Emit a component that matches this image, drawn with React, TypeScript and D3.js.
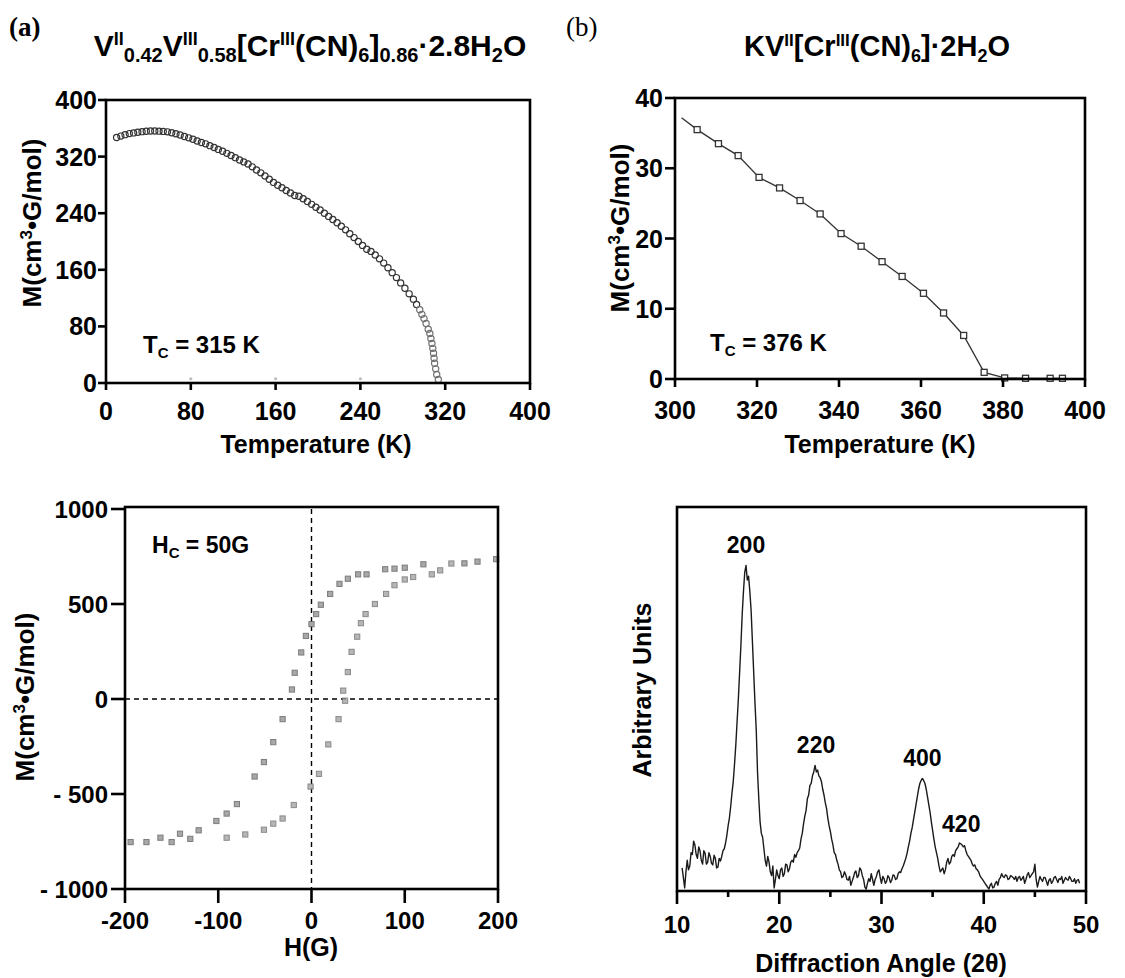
import React from 'react';
import * as d3 from 'd3';

// ---------- Panel (a) top: M vs T ----------
const tlTemps = [10,14,18,22,26,30,34,38,42,46,50,54,58,62,66,70,74,78,82,86,90,94,98,102,106,110,114,118,122,126,130,134,138,142,146,150,154,158,162,166,170,174,178,182,186,190,194,198,202,206,210,214,218,222,226,230,234,238,242,246,250,254,258,262,266,270,274,278,282,286,290,293,296,298,300,302,304,305.5,306.5,307.5,308.3,309,309.5,310,311,312,313.5];
const tlMag = [347,349,351,352.5,353.5,354.5,355.3,355.8,356.2,356.2,356,355.6,355,353.8,352.3,350.5,348.5,346.5,344.5,342,340,338,335.5,332.8,330.2,327.5,324.6,321.6,318.5,315.3,312.5,309.5,305.5,301,297,292.5,288,283.5,279.5,276,272,268.5,265,264,260.5,256.5,252.5,248.5,244.5,240,235.5,231,226.5,221.5,216.5,211,205.5,200,194.5,189,186,181,175.5,169.5,163,156,149,141.5,134,126,118.5,111,103.5,97,91,84,76,70,63,56,49,42,35,28,20,12,5];
const tlStrayT = [80,160,240];
const tlStrayM = [6,6,6];
const tlTicks = [0,80,160,240,320,400];

// ---------- Panel (b) top: M vs T ----------
const trLineStartT = 301.6;
const trLineStartM = 37.2;
const trTemps = [305.4,310.6,315.4,320.5,325.5,330.5,335.4,340.5,345.4,350.5,355.4,360.6,365.5,370.4,375.4,380.4,385.5,391.5,394.5];
const trMag = [35.5,33.5,31.8,28.7,27.2,25.4,23.5,20.7,18.9,16.7,14.6,12.2,9.4,6.2,0.95,0.15,0.1,0.1,0.1];
const trXTicks = [300,320,340,360,380,400];
const trYTicks = [0,10,20,30,40];

// ---------- Panel (a) bottom: hysteresis ----------
const descH = [198,178,164,120,100,89,79,59,50,39,30,20,10,5,0,-6,-11,-18,-21,-31,-41,-51,-61,-80,-91,-102,-121,-130,-141,-150,-162,-177,-194];
const descM = [736,723,714,709,691,686,683,656,656,633,606,553,496,447,394,332,245,138,50,-106,-227,-332,-408,-553,-603,-642,-691,-736,-709,-753,-730,-753,-753];
const ascH = [-91,-71,-51,-41,-31,-19,-1,8,18,29,36,34,39,43,49,53,58,68,80,89,100,109,129,138,150];
const ascM = [-730,-713,-688,-656,-629,-558,-461,-394,-239,-106,-9,44,142,248,328,399,447,500,553,599,629,642,656,677,713];
const blXTicks = [-200,-100,0,100,200];
const blYTicks = [-1000,-500,0,500,1000];
const blYLabels = ['- 1000','- 500','0','500','1000'];

// ---------- Panel (b) bottom: XRD ----------
const xrdAngle = [
  10.5,10.625,10.75,10.875,11,11.125,11.25,11.375,11.5,11.625,11.75,11.875,12,12.125,12.25,12.375,12.5,12.625,12.75,12.875,
  13,13.125,13.25,13.375,13.5,13.625,13.75,13.875,14,14.125,14.25,14.375,14.5,14.625,14.75,14.875,15,15.125,15.25,15.375,
  15.5,15.625,15.75,15.875,16,16.125,16.25,16.375,16.5,16.625,16.75,16.875,17,17.125,17.25,17.375,17.5,17.625,17.75,17.875,
  18,18.125,18.25,18.375,18.5,18.625,18.75,18.875,19,19.125,19.25,19.375,19.5,19.625,19.75,19.875,20,20.125,20.25,20.375,
  20.5,20.625,20.75,20.875,21,21.125,21.25,21.375,21.5,21.625,21.75,21.875,22,22.125,22.25,22.375,22.5,22.625,22.75,22.875,
  23,23.125,23.25,23.375,23.5,23.625,23.75,23.875,24,24.125,24.25,24.375,24.5,24.625,24.75,24.875,25,25.125,25.25,25.375,
  25.5,25.625,25.75,25.875,26,26.125,26.25,26.375,26.5,26.625,26.75,26.875,27,27.125,27.25,27.375,27.5,27.625,27.75,27.875,
  28,28.125,28.25,28.375,28.5,28.625,28.75,28.875,29,29.125,29.25,29.375,29.5,29.625,29.75,29.875,30,30.125,30.25,30.375,
  30.5,30.625,30.75,30.875,31,31.125,31.25,31.375,31.5,31.625,31.75,31.875,32,32.125,32.25,32.375,32.5,32.625,32.75,32.875,
  33,33.125,33.25,33.375,33.5,33.625,33.75,33.875,34,34.125,34.25,34.375,34.5,34.625,34.75,34.875,35,35.125,35.25,35.375,
  35.5,35.625,35.75,35.875,36,36.125,36.25,36.375,36.5,36.625,36.75,36.875,37,37.125,37.25,37.375,37.5,37.625,37.75,37.875,
  38,38.125,38.25,38.375,38.5,38.625,38.75,38.875,39,39.125,39.25,39.375,39.5,39.625,39.75,39.875,40,40.125,40.25,40.375,
  40.5,40.625,40.75,40.875,41,41.125,41.25,41.375,41.5,41.625,41.75,41.875,42,42.125,42.25,42.375,42.5,42.625,42.75,42.875,
  43,43.125,43.25,43.375,43.5,43.625,43.75,43.875,44,44.125,44.25,44.375,44.5,44.625,44.75,44.875,45,45.125,45.25,45.375,
  45.5,45.625,45.75,45.875,46,46.125,46.25,46.375,46.5,46.625,46.75,46.875,47,47.125,47.25,47.375,47.5,47.625,47.75,47.875,
  48,48.125,48.25,48.375,48.5,48.625,48.75,48.875,49,49.125,49.25,49.375];
const xrdIntensity = [
  6,3.5,0.8,5,8,5.5,6.5,10,9.5,13,12,9.5,8.5,11.5,10.5,8,7,10.5,9.8,7,
  7.5,10,9,7.2,6.8,9.3,8.5,6,6.2,8.5,7.8,9,10.5,11,12.5,14.5,17,19,22,25.5,
  28.5,33,38,44,50,57,64,72,78,83,84.8,81,82,78,73,65,57,49,42,31,
  24,18,15,14,11,8,6.5,9,7.5,5,4,6.5,0.8,3,5.5,4,3.2,5.5,6,3.8,
  4.5,7,6.8,5,5.8,7.5,8,7.5,9.5,8.8,10,10.5,11.2,13.5,15,17.5,19.5,21,24,25,
  27.5,28,30,31,32.7,31,31.5,30,29.5,28.5,26.5,25,23,21.5,19,17,15.5,13.5,12,10,
  9.5,8,7,5.5,5,3.5,3.8,5,4.2,3,2.8,3.8,1.5,2.5,3.5,4.8,5.2,3.5,4,6,
  5.5,4,3,1,0.5,2,3.2,2.5,4.5,3,1.5,3,3.8,5,5.5,3.5,2,3.8,3.2,2,
  2.5,4,3.5,2.2,2.8,4.2,4,3,3.2,4.5,5,4.8,5.8,6.5,7.5,8.5,9.8,11.5,13,15,
  16.5,18.5,20.5,22.5,24.5,26.5,28,28.8,29.3,28.8,28,26.5,24.5,22.5,20.5,18,15.8,13.5,11.5,10,
  8.5,6.5,5,5.5,6,4.5,5.5,7.5,8.5,7,7.5,9,9.5,9,10.5,11,11.5,12.5,12.3,12,
  11.5,11.8,10.5,9.5,9,8.5,8,7,6.5,6.8,5.8,5.5,5,4,3.5,3,2.5,2,1.5,1,
  0.5,1.5,2,0.8,1,2,2.5,1.5,3,3.5,4.5,3.8,3.5,4.2,4,3,3.2,4,3.8,3.5,
  3,3.8,2.5,3.5,3.8,2.8,3.2,3.8,2,3,4.2,4.8,3.5,4,4.5,5,7,3,1,2.5,
  3.8,3,2.5,3.5,3.5,2.5,1.5,2.8,3.2,2,2.5,3.5,3.8,3,2.2,3.2,3,3.8,2,2.8,
  3.5,3,2.8,3.8,3.2,2.5,2.5,3.2,2,2.8,3,2];
const peakLabels = ['200','220','400','420'];
const peakAngles = [16.75,23.6,34.0,37.8];
const peakIntensity = [84.8,32.7,29.3,12.3];
const brMajor = [10,20,30,40,50];
const brMinor = [15,25,35,45];

const SANS = '"Liberation Sans", Arial, Helvetica, sans-serif';
const SERIF = '"Liberation Serif", "Times New Roman", serif';

export default function App() {
  const tlx = d3.scaleLinear().domain([0, 400]).range([106, 530]);
  const tly = d3.scaleLinear().domain([0, 400]).range([383, 100]);
  const trx = d3.scaleLinear().domain([300, 400]).range([675, 1085]);
  const try_ = d3.scaleLinear().domain([0, 40]).range([379, 98]);
  const blx = d3.scaleLinear().domain([-200, 200]).range([125, 498]);
  const bly = d3.scaleLinear().domain([-1000, 1000]).range([889, 509]);
  const brx = d3.scaleLinear().domain([10, 50]).range([677, 1086]);
  const bry = d3.scaleLinear().domain([0, 100]).range([891, 507]);

  const trLine = d3.line<[number, number]>().x(d => trx(d[0])).y(d => try_(d[1]));
  const trPts: [number, number][] = [[trLineStartT, trLineStartM], ...trTemps.map((t, i) => [t, trMag[i]] as [number, number])];
  const xrdLine = d3.line<number>().x((_, i) => brx(xrdAngle[i])).y(d => bry(d));

  const axisW = 2.6;
  const tf = { fontFamily: SANS, fontWeight: 700 } as const;

  const frame = (x0: number, x1: number, y0: number, y1: number) => (
    <rect x={x0} y={y1} width={x1 - x0} height={y0 - y1} fill="none" stroke="#000" strokeWidth={axisW} />
  );

  const yTitle = (x: number, y: number) => (
    <text transform={`translate(${x},${y}) rotate(-90)`} textAnchor="middle" fontSize={26} {...tf}>
      M(cm<tspan dy={-9} fontSize={17}>3</tspan><tspan dy={9}>•G/mol)</tspan>
    </text>
  );

  return (
    <svg width={1125} height={978} style={{ position: 'absolute', left: 0, top: 0, background: '#fff' }}>
      <rect width={1125} height={978} fill="#fff" />
      <text x={9} y={36} fontFamily={SERIF} fontWeight={700} fontSize={27}>(a)</text>
      <text x={566} y={36} fontFamily={SERIF} fontSize={27}>(b)</text>

      <text x={310} y={56} textAnchor="middle" fontFamily={SANS} fontWeight={700} fontSize={30}>
        V<tspan dy={-11} fontSize={18}>II</tspan><tspan dy={17} fontSize={20}>0.42</tspan>
        <tspan dy={-6}>V</tspan><tspan dy={-11} fontSize={18}>III</tspan><tspan dy={17} fontSize={20}>0.58</tspan>
        <tspan dy={-6}>[Cr</tspan><tspan dy={-11} fontSize={18}>III</tspan><tspan dy={11}>(CN)</tspan>
        <tspan dy={6} fontSize={20}>6</tspan><tspan dy={-6}>]</tspan><tspan dy={6} fontSize={20}>0.86</tspan>
        <tspan dy={-6}>·2.8H</tspan><tspan dy={6} fontSize={20}>2</tspan><tspan dy={-6}>O</tspan>
      </text>
      <text x={877} y={56} textAnchor="middle" fontFamily={SANS} fontWeight={700} fontSize={29}>
        KV<tspan dy={-10} fontSize={17}>II</tspan><tspan dy={10}>[Cr</tspan><tspan dy={-10} fontSize={17}>III</tspan>
        <tspan dy={10}>(CN)</tspan><tspan dy={6} fontSize={18}>6</tspan><tspan dy={-6}>]·2H</tspan>
        <tspan dy={6} fontSize={18}>2</tspan><tspan dy={-6}>O</tspan>
      </text>

      {/* ============ TOP LEFT ============ */}
      <g>
        {tlTemps.map((t, i) => (
          <circle key={i} cx={tlx(t)} cy={tly(tlMag[i])} r={3.1} fill="none"
            stroke={t > 295 ? '#707070' : '#333'} strokeWidth={1.2} />
        ))}
        {tlStrayT.map((t, i) => (
          <circle key={'s' + i} cx={tlx(t)} cy={tly(tlStrayM[i])} r={1.6} fill="#bbb" />
        ))}
        {frame(106, 530, 383, 100)}
        {tlTicks.map(v => (
          <g key={'x' + v}>
            <line x1={tlx(v)} x2={tlx(v)} y1={383} y2={390} stroke="#000" strokeWidth={axisW} />
            <text x={tlx(v)} y={420} textAnchor="middle" fontSize={25} {...tf}>{v}</text>
          </g>
        ))}
        {tlTicks.map(v => (
          <g key={'y' + v}>
            <line x1={98} x2={106} y1={tly(v)} y2={tly(v)} stroke="#000" strokeWidth={axisW} />
            <text x={97} y={tly(v)} dy="0.36em" textAnchor="end" fontSize={25} {...tf}>{v}</text>
          </g>
        ))}
        <text x={316} y={453} textAnchor="middle" fontSize={25} {...tf}>Temperature (K)</text>
        {yTitle(41, 223)}
        <text x={143} y={353} fontSize={24} {...tf}>T<tspan dy={5} fontSize={15}>C</tspan><tspan dy={-5}> = 315 K</tspan></text>
      </g>

      {/* ============ TOP RIGHT ============ */}
      <g>
        <path d={trLine(trPts) || ''} fill="none" stroke="#333" strokeWidth={1.3} />
        {trTemps.map((t, i) => (
          <rect key={i} x={trx(t) - 3} y={try_(trMag[i]) - 3} width={6} height={6} fill="#fff" stroke="#333" strokeWidth={1.3} />
        ))}
        {frame(675, 1085, 379, 98)}
        {trXTicks.map(v => (
          <g key={'x' + v}>
            <line x1={trx(v)} x2={trx(v)} y1={379} y2={387} stroke="#000" strokeWidth={axisW} />
            <text x={trx(v)} y={419} textAnchor="middle" fontSize={25} {...tf}>{v}</text>
          </g>
        ))}
        {trYTicks.map(v => (
          <g key={'y' + v}>
            <line x1={665} x2={675} y1={try_(v)} y2={try_(v)} stroke="#000" strokeWidth={axisW} />
            <text x={663} y={try_(v)} dy="0.36em" textAnchor="end" fontSize={25} {...tf}>{v}</text>
          </g>
        ))}
        <text x={880} y={453} textAnchor="middle" fontSize={25} {...tf}>Temperature (K)</text>
        {yTitle(629, 228)}
        <text x={710} y={351} fontSize={24} {...tf}>T<tspan dy={5} fontSize={15}>C</tspan><tspan dy={-5}> = 376 K</tspan></text>
      </g>

      {/* ============ BOTTOM LEFT ============ */}
      <g>
        <line x1={blx(0)} x2={blx(0)} y1={509} y2={889} stroke="#000" strokeWidth={1.4} strokeDasharray="5,4" />
        <line x1={125} x2={498} y1={bly(0)} y2={bly(0)} stroke="#000" strokeWidth={1.4} strokeDasharray="5,4" />
        {descH.map((h, i) => (
          <rect key={'d' + i} x={blx(h) - 2.6} y={bly(descM[i]) - 2.6} width={5.2} height={5.2} fill="#999" stroke="#666" strokeWidth={1} opacity={0.85} />
        ))}
        {ascH.map((h, i) => (
          <rect key={'a' + i} x={blx(h) - 2.6} y={bly(ascM[i]) - 2.6} width={5.2} height={5.2} fill="#aaa" stroke="#777" strokeWidth={1} opacity={0.85} />
        ))}
        {frame(125, 498, 889, 507)}
        {blXTicks.map(v => (
          <g key={'x' + v}>
            <line x1={blx(v)} x2={blx(v)} y1={889} y2={903} stroke="#000" strokeWidth={axisW} />
            <text x={blx(v)} y={929} textAnchor="middle" fontSize={24} {...tf}>{v}</text>
          </g>
        ))}
        {blYTicks.map((v, i) => (
          <g key={'y' + v}>
            <line x1={111} x2={125} y1={bly(v)} y2={bly(v)} stroke="#000" strokeWidth={axisW} />
            <text x={108} y={bly(v)} dy="0.36em" textAnchor="end" fontSize={24} {...tf}>{blYLabels[i]}</text>
          </g>
        ))}
        <text x={311} y={956} textAnchor="middle" fontSize={25} {...tf}>H(G)</text>
        {yTitle(34, 697)}
        <text x={152} y={553} fontSize={23} {...tf}>H<tspan dy={5} fontSize={15}>C</tspan><tspan dy={-5}> = 50G</tspan></text>
      </g>

      {/* ============ BOTTOM RIGHT ============ */}
      <g>
        <path d={xrdLine(xrdIntensity) || ''} fill="none" stroke="#1a1a1a" strokeWidth={1.4} strokeLinejoin="round" />
        {frame(677, 1086, 891, 507)}
        {brMajor.map(v => (
          <g key={'x' + v}>
            <line x1={brx(v)} x2={brx(v)} y1={891} y2={904} stroke="#000" strokeWidth={axisW} />
            <text x={brx(v)} y={933} textAnchor="middle" fontSize={24} {...tf}>{v}</text>
          </g>
        ))}
        {brMinor.map(v => (
          <line key={'m' + v} x1={brx(v)} x2={brx(v)} y1={891} y2={897} stroke="#000" strokeWidth={axisW} />
        ))}
        {peakLabels.map((l, i) => (
          <text key={l} x={brx(peakAngles[i])} y={bry(peakIntensity[i]) - 12} textAnchor="middle" fontSize={23} {...tf}>{l}</text>
        ))}
        <text x={881} y={972} textAnchor="middle" fontSize={25} {...tf}>Diffraction Angle (2θ)</text>
        <text transform="translate(651,690) rotate(-90)" textAnchor="middle" fontSize={25} {...tf}>Arbitrary Units</text>
      </g>
    </svg>
  );
}
